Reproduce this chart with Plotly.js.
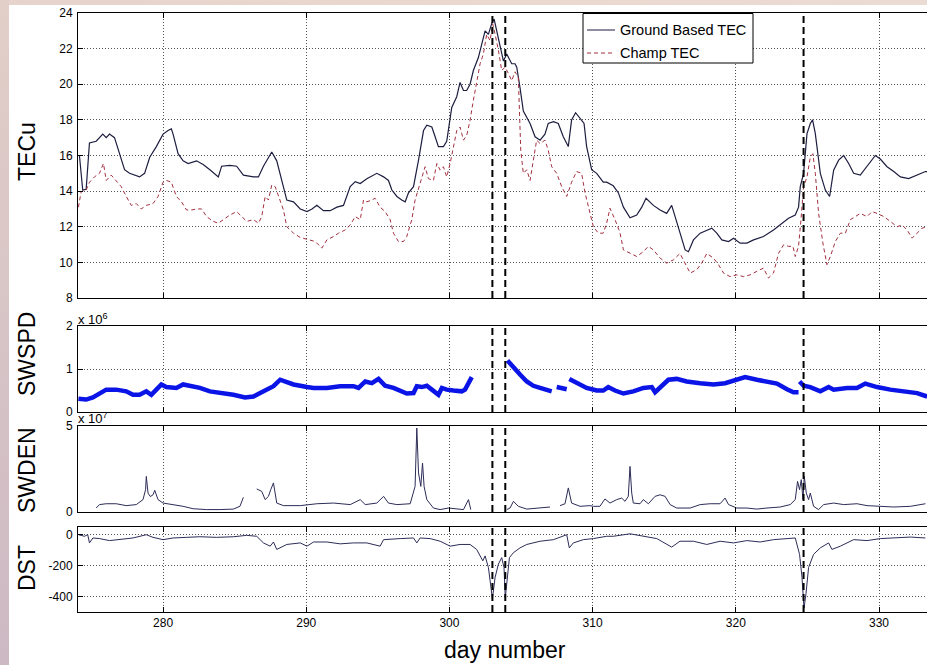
<!DOCTYPE html>
<html>
<head>
<meta charset="utf-8">
<script src="https://cdn.plot.ly/plotly-3.0.1.min.js"></script>
<style>
  html, body { margin: 0; padding: 0; background: #ffffff; }
  #wrap { position: relative; width: 927px; height: 665px; overflow: hidden; }
  #chart { position: absolute; left: 0; top: 0; width: 927px; height: 665px; }
  #topstrip { position: absolute; left: 0; top: 0; width: 927px; height: 5px;
    background: linear-gradient(to right, #e6d3cb, #ebd9cf 60%, #eadbd3); pointer-events: none; }
  #leftstrip { position: absolute; left: 0; top: 0; width: 9px; height: 665px;
    background: linear-gradient(to bottom, #e2cfc8, #d7c4c6 50%, #cdb9c3); pointer-events: none; }
</style>
</head>
<body>
<div id="wrap">
  <div id="chart"></div>
  <div id="topstrip"></div>
  <div id="leftstrip"></div>
</div>
<script>
// ---------------- DATA ----------------
const xTicks = [280, 290, 300, 310, 320, 330];
const eventDays = [303.0, 303.9, 324.73];
const seriesNames = ['Ground Based TEC', 'Champ TEC'];

const groundDays = [274.16,274.39,274.63,274.86,275.33,275.79,276.03,276.26,276.61,276.96,277.31,277.66,278.36,278.71,279.07,279.53,280.0,280.35,280.58,280.70,281.05,281.40,281.75,282.34,282.80,283.27,283.86,284.09,284.67,285.14,285.61,286.31,286.66,287.01,287.59,287.94,288.29,288.64,289.11,289.58,290.05,290.4,290.74,291.2,291.67,292.14,292.6,293.07,293.42,293.77,294.23,294.93,295.4,295.74,295.98,296.33,296.67,296.91,297.14,297.49,297.84,298.19,298.42,298.77,299.0,299.23,299.58,299.81,300.16,300.51,300.74,300.98,301.2,301.44,301.67,302.02,302.26,302.49,302.72,302.95,303.12,303.3,303.53,303.77,304.0,304.35,304.58,304.7,304.93,305.16,305.63,305.98,306.33,306.67,306.9,307.26,307.6,307.95,308.3,308.53,308.81,309.12,309.4,309.58,309.93,310.28,310.74,310.98,311.44,311.8,312.15,312.61,313.08,313.43,313.73,314.24,314.71,315.17,315.52,315.76,316.1,316.46,316.69,317.04,317.51,317.97,318.32,318.67,319.02,319.49,319.84,320.3,320.77,321.24,321.93,322.63,323.22,323.68,324.15,324.38,324.5,324.73,324.97,325.2,325.36,325.55,325.9,326.25,326.55,326.83,327.18,327.53,327.88,328.23,328.69,329.16,329.74,330.09,330.56,331.03,331.49,332.07,332.66,333.24,333.4];
const groundTec = [16.0,14.06,14.1,16.7,16.8,17.2,17.0,17.2,17.0,16.1,15.2,15.0,14.8,15.0,15.9,16.5,17.2,17.4,17.5,17.2,16.1,15.7,15.55,15.7,15.5,15.2,14.8,15.4,15.45,15.4,14.9,14.8,14.8,15.4,16.2,15.7,14.6,13.5,13.4,13.0,12.85,13.0,13.2,12.9,12.9,13.1,13.2,14.25,14.53,14.43,14.7,15.0,14.8,14.6,14.06,13.7,13.5,13.4,13.9,14.25,15.74,17.4,17.7,17.6,17.05,16.5,16.5,16.8,18.7,19.3,20.1,19.65,19.65,20.0,20.77,21.5,22.27,23.0,22.8,23.4,23.66,23.0,22.1,21.3,21.7,21.15,21.15,20.96,19.8,18.5,17.8,17.05,16.86,17.2,17.8,17.9,17.8,17.05,16.5,18.0,18.4,18.07,17.8,16.5,15.2,15.0,14.5,14.5,14.3,13.9,13.1,12.5,12.66,13.1,13.6,13.2,12.94,12.75,13.2,12.57,11.64,10.7,10.6,11.26,11.64,11.82,11.92,11.64,11.26,11.17,11.36,11.08,11.08,11.26,11.45,11.82,12.2,12.48,12.66,13.1,14.25,15.0,17.23,17.8,18.0,17.23,15.0,14.06,13.7,15.18,15.74,16.0,15.55,15.0,14.9,15.37,16.0,15.8,15.37,15.1,14.8,14.7,14.9,15.1,15.1];

const champDays = [274.09,274.28,274.63,274.86,275.21,275.56,275.84,276.03,276.38,276.73,277.08,277.43,277.78,278.13,278.48,278.83,279.3,279.65,280.0,280.23,280.58,280.93,281.29,281.64,281.99,282.34,282.69,283.04,283.5,283.86,284.2,284.67,285.14,285.49,285.84,286.31,286.66,286.89,287.13,287.36,287.59,287.83,288.06,288.41,288.64,289.11,289.58,290.16,290.63,291.09,291.44,291.9,292.26,292.72,293.07,293.42,293.77,294.0,294.23,294.58,294.81,295.16,295.51,295.86,296.09,296.44,296.79,297.02,297.37,297.6,297.95,298.3,298.53,298.88,299.12,299.35,299.58,299.81,300.05,300.28,300.51,300.74,300.98,301.21,301.44,301.67,301.9,302.14,302.37,302.6,302.84,303.02,303.19,303.42,303.65,303.88,304.12,304.35,304.58,304.81,304.98,305.16,305.4,305.63,305.86,306.09,306.33,306.67,306.9,307.14,307.49,307.84,308.19,308.53,308.88,309.23,309.47,309.7,310.05,310.4,310.74,310.98,311.21,311.56,311.9,312.15,312.61,313.08,313.54,313.89,314.24,314.71,315.17,315.64,316.1,316.46,316.81,317.27,317.62,317.97,318.44,318.79,319.14,319.6,320.07,320.54,321.0,321.47,321.93,322.28,322.63,322.98,323.33,323.68,323.99,324.15,324.38,324.55,324.73,324.97,325.2,325.38,325.55,325.78,326.08,326.36,326.6,326.95,327.3,327.65,328.0,328.35,328.69,329.16,329.51,329.86,330.33,330.79,331.26,331.61,331.96,332.31,332.66,333.01,333.36];
const champTec = [13.1,13.97,14.06,14.5,14.8,15.0,15.55,14.6,14.9,14.6,14.25,13.7,13.2,13.3,13.0,13.2,13.3,13.7,14.5,14.6,14.5,13.7,13.4,12.94,12.94,13.0,13.0,12.57,12.3,12.2,12.4,12.66,12.85,12.57,12.3,12.4,12.2,12.57,13.7,13.5,14.34,14.25,13.7,12.94,12.0,11.64,11.4,11.26,11.17,10.8,11.26,11.45,11.64,11.82,12.1,12.57,12.4,13.5,13.4,13.5,13.6,13.1,12.85,12.4,11.64,11.17,11.17,11.45,12.4,13.5,14.43,15.37,14.7,14.6,15.55,15.18,15.37,14.8,15.55,16.5,17.4,17.6,16.86,17.14,17.98,19.1,20.2,21.15,21.7,22.8,22.45,23.4,22.8,21.9,20.77,20.96,20.6,20.2,20.7,20.4,16.3,15.0,15.2,14.6,15.74,16.86,16.67,16.86,16.3,15.37,15.0,14.25,13.7,14.5,15.1,15.0,13.9,13.1,12.0,11.64,11.64,12.2,13.04,12.4,11.7,10.7,10.5,10.33,10.6,10.9,10.7,10.24,9.96,10.14,10.5,9.96,9.4,9.59,9.96,10.5,10.24,9.87,9.4,9.2,9.3,9.2,9.3,9.5,9.68,9.12,9.4,10.5,10.98,10.9,10.9,10.33,10.9,12.4,14.25,14.8,15.9,16.1,15.0,12.75,11.08,9.87,10.33,11.17,11.64,11.64,12.4,12.57,12.75,12.57,12.85,12.75,12.57,12.3,12.0,12.1,11.82,11.36,11.64,11.92,12.0];

// solar wind speed, units of 1e6 (null = data gap)
const swspdDays = [274.09,274.63,275.1,275.56,276.03,276.73,277.43,277.9,278.36,278.83,279.18,279.53,279.88,280.23,280.93,281.4,281.99,282.57,283.27,284.2,284.91,285.72,286.31,286.78,287.24,287.71,288.18,288.53,289.11,290.05,290.51,291.44,292.37,293.3,293.65,294.12,294.58,295.05,295.51,296.09,296.56,297.02,297.49,297.72,298.07,298.42,298.77,299.23,299.47,299.81,300.28,300.86,301.09,301.33,301.56,302.5,304.05,304.47,304.93,305.4,305.86,306.33,306.79,307.14,307.3,307.49,308.19,308.28,308.37,308.88,309.58,310.28,310.74,311.09,311.56,312.15,312.84,313.54,314.13,314.36,314.71,315.29,315.87,316.57,317.51,318.44,319.25,320.07,320.65,321.47,322.17,322.87,323.57,324.03,324.38,324.42,324.45,324.73,325.2,325.9,326.48,326.83,327.76,328.46,329.04,329.86,330.79,331.72,332.66,333.36];
const swspd = [0.31,0.29,0.34,0.44,0.52,0.52,0.48,0.40,0.40,0.48,0.40,0.52,0.64,0.58,0.56,0.64,0.61,0.56,0.48,0.44,0.40,0.34,0.36,0.44,0.52,0.60,0.75,0.71,0.64,0.58,0.56,0.56,0.60,0.60,0.56,0.71,0.67,0.77,0.61,0.56,0.48,0.43,0.44,0.60,0.58,0.61,0.52,0.40,0.56,0.52,0.50,0.48,0.52,0.67,0.81,null,1.2,1.06,0.87,0.71,0.61,0.56,0.52,0.48,null,0.58,0.53,null,0.77,0.67,0.56,0.50,0.50,0.58,0.50,0.43,0.48,0.56,0.58,0.46,0.58,0.75,0.77,0.71,0.67,0.64,0.67,0.74,0.81,0.75,0.71,0.66,0.53,0.46,0.46,null,0.71,0.61,0.58,0.48,0.58,0.52,0.56,0.56,0.66,0.58,0.52,0.48,0.44,0.36];

// solar wind density, units of 1e7 (null = data gap)
const swdenDays = [275.33,275.56,276.03,276.73,277.43,278.13,278.6,278.78,278.83,278.95,279.11,279.3,279.42,279.65,280.0,280.7,281.4,282.1,283.04,283.97,284.91,285.37,285.61,286.0,286.54,286.89,287.13,287.36,287.52,287.71,287.94,288.41,289.58,290.74,291.91,293.07,293.77,294.12,294.93,295.4,295.74,296.33,297.26,297.6,297.72,297.84,298.0,298.12,298.23,298.42,298.88,299.35,299.93,300.51,300.98,301.33,301.49,302.5,304.0,304.23,304.47,304.81,305.4,306.33,307.02,307.3,307.72,308.07,308.3,308.53,309.12,309.81,310.05,310.51,310.86,311.21,311.68,312.03,312.26,312.49,312.61,312.73,312.84,313.31,313.54,313.89,314.36,314.71,315.06,315.41,315.87,316.81,317.51,318.21,318.9,319.25,319.49,320.07,320.77,321.47,322.17,323.1,323.8,324.15,324.31,324.45,324.57,324.69,324.78,324.92,325.08,325.2,325.43,325.78,326.13,326.83,327.53,328.46,329.16,330.09,331.03,332.19,333.24];
const swden = [0.23,0.43,0.48,0.48,0.37,0.43,0.72,1.3,2.07,1.1,0.9,1.0,1.26,0.72,0.52,0.43,0.33,0.19,0.14,0.14,0.17,0.33,0.85,null,1.34,1.2,0.72,0.91,1.3,1.69,0.52,0.37,0.37,0.48,0.52,0.43,0.72,0.43,0.52,0.91,0.52,0.43,0.48,1.49,4.88,2.27,1.49,2.85,1.49,0.72,0.23,0.14,0.23,0.17,0.14,0.72,0.14,null,0.14,0.23,0.62,0.33,0.17,0.23,0.29,null,0.37,0.48,1.4,0.52,0.33,0.37,0.33,0.33,0.76,0.52,0.72,0.81,0.62,0.91,2.65,1.1,0.52,0.48,0.72,0.48,0.91,1.0,0.91,0.43,0.23,0.23,0.43,0.48,0.48,0.81,0.43,0.23,0.23,0.17,0.23,0.29,0.43,0.72,1.78,1.3,1.88,0.72,2.07,1.1,0.72,1.1,0.33,0.14,0.43,0.52,0.43,0.48,0.37,0.33,0.29,0.33,0.48];

const dstDays = [274.09,274.51,274.74,274.86,275.1,275.56,276.26,276.96,277.9,278.83,279.3,280.0,280.7,281.64,282.57,283.74,284.91,285.84,286.54,287.01,287.48,287.71,287.94,288.64,289.58,290.05,290.51,291.44,292.37,293.3,294.23,295.16,295.4,296.56,297.49,297.72,297.95,298.65,299.35,300.05,300.74,301.44,301.9,302.33,302.49,302.72,302.88,303.0,303.19,303.42,303.65,303.81,303.9,304.05,304.19,304.47,304.93,305.4,306.33,307.26,308.19,308.37,308.65,309.35,310.05,310.98,311.45,312.61,313.54,314.48,315.52,316.1,317.04,317.97,318.9,319.84,320.77,321.7,322.63,323.57,324.15,324.45,324.62,324.76,324.9,325.08,325.43,325.9,326.48,326.71,327.3,328.23,329.16,330.09,331.03,332.19,333.24];
const dst = [0,-10,0,-53,-21,-25,-38,-30,-21,0,-17,-32,-21,-17,-13,-17,-13,-4,-10,-53,-74,-47,-95,-63,-53,-74,-47,-47,-59,-53,-53,-74,-32,-25,-21,-53,-21,-25,-42,-74,-63,-63,-95,-169,-137,-212,-317,-413,-275,-190,-148,-212,-408,-254,-148,-116,-85,-63,-42,-32,0,-85,-53,-32,-25,-10,-10,6,-10,-25,-80,-42,-42,-63,-42,-53,-38,-47,-32,-25,-21,-127,-275,-476,-381,-212,-127,-85,-53,-95,-74,-32,-38,-25,-21,-15,-21];

const tecTicks = [8,10,12,14,16,18,20,22,24];
const swspdTicks = [0,1,2];
const swdenTicks = [0,5];
const dstTicks = [-400,-200,0];

// ---------------- CHART ----------------
const FONT = 'Liberation Sans, Arial, Helvetica, sans-serif';
const xRange = [274.06, 333.35];
const groundCol = '#1d1d40';
const champCol = '#a3303f';
const champDash = '4px,3px';

const traces = [
  {x: groundDays, y: groundTec, xaxis: 'x', yaxis: 'y', mode: 'lines', name: seriesNames[0],
   line: {color: groundCol, width: 1.2}},
  {x: champDays, y: champTec, xaxis: 'x', yaxis: 'y', mode: 'lines', name: seriesNames[1],
   line: {color: champCol, width: 1, dash: champDash}},
  {x: swspdDays, y: swspd, xaxis: 'x2', yaxis: 'y2', mode: 'lines',
   line: {color: '#0a14e6', width: 4.5}, connectgaps: false},
  {x: swdenDays, y: swden, xaxis: 'x3', yaxis: 'y3', mode: 'lines',
   line: {color: '#2c2c58', width: 1}, connectgaps: false},
  {x: dstDays, y: dst, xaxis: 'x4', yaxis: 'y4', mode: 'lines',
   line: {color: '#2c2c58', width: 1}}
];

const GRID = '#555555';
const GDASH = '1px,2px';

function xAx(anchor, showLabels) {
  return {
    anchor: anchor, range: xRange, tickvals: xTicks, ticktext: xTicks.map(String),
    ticks: 'inside', ticklen: 5, tickcolor: '#000', mirror: 'ticks',
    showline: true, linecolor: '#000', linewidth: 1,
    showgrid: true, gridcolor: GRID, griddash: GDASH, gridwidth: 1,
    zeroline: false, showticklabels: showLabels,
    tickfont: {family: FONT, size: 12, color: '#000'}
  };
}
function yAx(anchor, dom, range, ticks) {
  return {
    anchor: anchor, domain: dom, range: range, tickvals: ticks, ticktext: ticks.map(String),
    ticks: 'inside', ticklen: 5, tickcolor: '#000',
    showline: true, linecolor: '#000', linewidth: 1,
    showgrid: true, gridcolor: GRID, griddash: GDASH, gridwidth: 1,
    zeroline: false, ticklabelstandoff: 2,
    tickfont: {family: FONT, size: 12, color: '#000'}
  };
}

const plotTop = 13, plotBot = 612, plotH = 599;
const py = v => (plotBot - v) / plotH;      // pixel row -> paper y
const px = v => (v - 78) / 849;             // pixel col -> paper x

const shapes = [];
[['x','y'],['x2','y2'],['x3','y3'],['x4','y4']].forEach(([xa, ya]) => {
  eventDays.forEach(d => {
    shapes.push({type: 'line', xref: xa, yref: ya + ' domain', x0: d, x1: d, y0: 0, y1: 1,
      line: {color: '#000', width: 2, dash: '7px,4px'}});
  });
});
// legend box and samples
shapes.push({type: 'rect', xref: 'paper', yref: 'paper', x0: px(583), x1: px(753), y0: py(63), y1: py(13.5),
  fillcolor: '#ffffff', line: {color: '#000', width: 1}});
shapes.push({type: 'line', xref: 'paper', yref: 'paper', x0: px(587), x1: px(615), y0: py(30), y1: py(30),
  line: {color: groundCol, width: 1}});
shapes.push({type: 'line', xref: 'paper', yref: 'paper', x0: px(587), x1: px(615), y0: py(53), y1: py(53),
  line: {color: champCol, width: 1, dash: champDash}});

const ann = (text, x, y, size, extra) => Object.assign({
  text: text, xref: 'paper', yref: 'paper', x: x, y: y, showarrow: false,
  xanchor: 'center', yanchor: 'middle',
  font: {family: FONT, size: size, color: '#000'}
}, extra || {});

const layout = {
  width: 927, height: 665,
  margin: {l: 78, r: 0, t: plotTop, b: 665 - plotBot},
  paper_bgcolor: '#ffffff', plot_bgcolor: '#ffffff',
  showlegend: false,
  xaxis: xAx('y', false),
  xaxis2: xAx('y2', false),
  xaxis3: xAx('y3', false),
  xaxis4: xAx('y4', true),
  yaxis: yAx('x', [py(298), 1], [8, 24], tecTicks),
  yaxis2: yAx('x2', [py(412), py(326)], [0, 2], swspdTicks),
  yaxis3: yAx('x3', [py(512), py(426)], [0, 5], swdenTicks),
  yaxis4: yAx('x4', [0, py(527)], [-500, 50], dstTicks),
  shapes: shapes,
  annotations: [
    ann('TECu', px(27), py(152), 23, {textangle: -90}),
    ann('SWSPD', px(27), py(354), 23, {textangle: -90}),
    ann('SWDEN', px(27), py(470), 23, {textangle: -90}),
    ann('DST', px(27), py(568), 23, {textangle: -90}),
    ann('day number', px(505), py(650), 23),
    ann(seriesNames[0], px(618), py(30), 14.5, {xanchor: 'left'}),
    ann(seriesNames[1], px(618), py(53), 14.5, {xanchor: 'left'}),
    ann('x 10<sup>6</sup>', px(76), py(329), 13, {xanchor: 'left', yanchor: 'bottom'}),
    ann('x 10<sup>7</sup>', px(76), py(428), 13, {xanchor: 'left', yanchor: 'bottom'})
  ]
};

Plotly.newPlot('chart', traces, layout, {displayModeBar: false, staticPlot: true});
</script>
</body>
</html>
